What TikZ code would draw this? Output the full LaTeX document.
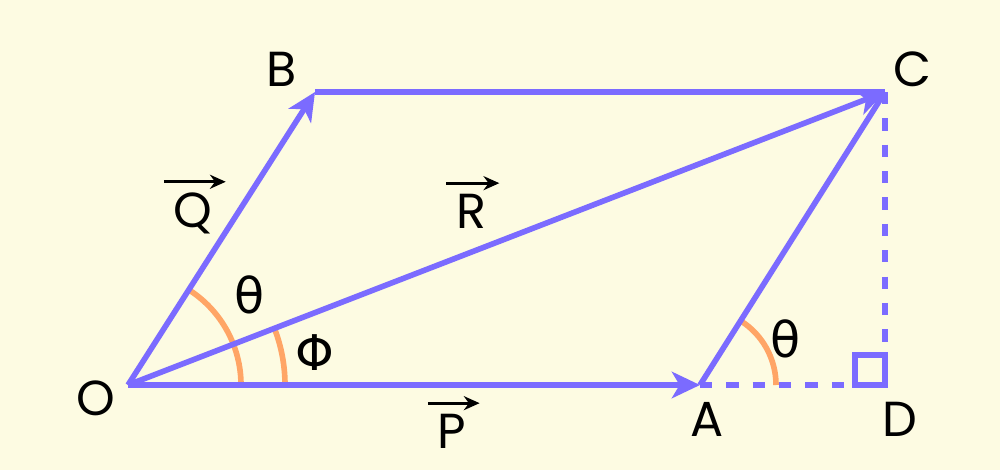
\documentclass[tikz,border=0pt]{standalone}
\usepackage{fontspec}
\setmainfont{Poppins}
\newfontfamily\greekfont{DejaVu Sans}
\usetikzlibrary{arrows.meta}

\definecolor{vecpurple}{HTML}{7B6BFF}
\definecolor{arcorange}{HTML}{FFA566}
\definecolor{paper}{HTML}{FDFBE2}

\tikzset{
  vec/.style={vecpurple, line width=1.6pt, -{Stealth[length=8pt,width=7.5pt,inset=2.2pt]}},
  side/.style={vecpurple, line width=1.6pt},
  dashside/.style={vecpurple, line width=1.6pt, dash pattern=on 3.5pt off 4pt},
  anglearc/.style={arcorange, line width=1.6pt},
  lbl/.style={font=\fontsize{14}{16}\selectfont, inner sep=0pt, anchor=base},
  greek/.style={font=\greekfont\fontsize{14}{16}\selectfont, inner sep=0pt, anchor=base},
  overarrow/.style={black, line width=0.9pt, -{Stealth[length=4.5pt,width=4pt]}}
}

\begin{document}
\begin{tikzpicture}
    % Background and bounding box
    \fill[paper] (0,0) rectangle (10,4.7);
    \useasboundingbox (0,0) rectangle (10,4.7);

    % Corners of the parallelogram
    \coordinate (O) at (1.28,0.85);
    \coordinate (A) at (7.00,0.85);
    \coordinate (B) at (3.15,3.78);
    \coordinate (C) at (8.85,3.78);
    \coordinate (D) at (8.85,0.85);

    % Draw the extension and the perpendicular
    \draw[dashside] (A) -- (D);
    \draw[dashside] (C) -- (D);
    \draw[side] ([xshift=-0.3cm]D) rectangle ([yshift=0.3cm]D);

    % Draw the angle arcs
    \draw[anglearc] ([xshift=1.13cm]O) arc[start angle=0, end angle=57.5, radius=1.13];
    \draw[anglearc] ([xshift=1.57cm]O) arc[start angle=0, end angle=21.2, radius=1.57];
    \draw[anglearc] ([xshift=0.76cm]A) arc[start angle=0, end angle=57.5, radius=0.76];

    % Draw the sides
    \draw[side] (B) -- (C);
    \draw[side] (A) -- (C);

    % Draw the vectors
    \draw[vec] (O) -- (A);
    \draw[vec] (O) -- (B);
    \draw[vec] (O) -- (C);

    % Label the points
    \node[lbl] (Olbl) at (0.96,0.55) {O};
    \node[lbl] (Albl) at (7.07,0.34) {A};
    \node[lbl] (Blbl) at (2.82,3.84) {B};
    \node[lbl] (Clbl) at (9.12,3.84) {C};
    \node[lbl] (Dlbl) at (9.00,0.34) {D};

    % Label the vectors
    \node[lbl] (Plbl) at (4.52,0.22) {P};
    \node[lbl] (Qlbl) at (1.93,2.43) {Q};
    \node[lbl] (Rlbl) at (4.71,2.42) {R};
    \foreach \v in {Plbl,Qlbl,Rlbl}
      \draw[overarrow] ([xshift=-2.6pt,yshift=2.8pt]\v.north west) -- ([xshift=3.6pt,yshift=2.8pt]\v.north east);

    % Label the angles
    \node[greek] (thetaO) at (2.50,1.57) {θ};
    \node[greek] (phiO) at (3.15,1.00) {Φ};
    \node[greek] (thetaA) at (7.86,1.13) {θ};
\end{tikzpicture}
\end{document}
